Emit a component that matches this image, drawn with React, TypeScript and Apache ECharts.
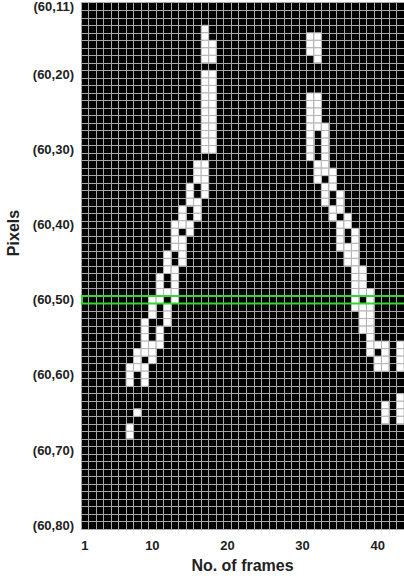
import React, { useEffect, useRef } from "react";
import * as echarts from "echarts";

// Frame numbers (columns) and pixel rows
const frames: string[] = Array.from({ length: 43 }, (_, i) => String(i + 1));
const pixelRows: string[] = Array.from({ length: 70 }, (_, i) => String(i + 11));
const frameTicks = ["1", "10", "20", "30", "40"];
const rowTicks = ["11", "20", "30", "40", "50", "60", "70", "80"];
const highlightRow = "50";

// White (active) cells: [row, frames]
const leftTrack: [number, number[]][] = [
  [14, [17]], [15, [17]], [16, [17, 18]], [17, [17, 18]], [18, [17, 18]],
  [20, [17, 18]], [21, [17, 18]], [22, [17, 18]], [23, [17, 18]], [24, [17, 18]],
  [25, [17, 18]], [26, [17, 18]], [27, [17, 18]], [28, [17, 18]], [29, [17, 18]],
  [30, [17, 18]],
  [32, [16, 17]], [33, [16, 17]], [34, [16, 17]], [35, [15, 17]], [36, [15, 17]],
  [37, [15, 16]], [38, [14, 16]], [39, [14, 16]], [40, [13, 14, 15]], [41, [13, 15]],
  [42, [13, 14]], [43, [13, 14]], [44, [12, 14]], [45, [12, 14]], [46, [12, 13]],
  [47, [11, 13]], [48, [11, 13]], [49, [11, 12, 13]], [50, [10, 11, 13]], [51, [10, 12]],
  [52, [10, 12]], [53, [9, 12]], [54, [9, 11]], [55, [9, 11]], [56, [9, 10, 11]],
  [57, [8, 9, 10]], [58, [8, 10]], [59, [7, 8, 9]], [60, [7, 9]], [61, [7, 9]],
  [65, [8]], [67, [7]], [68, [7]],
];

const rightTrack: [number, number[]][] = [
  [15, [31, 32]], [16, [31, 32]], [17, [31, 32]], [18, [32]],
  [23, [31, 32]], [24, [31, 32]], [25, [31, 32]], [26, [31, 32]], [27, [31, 32, 33]],
  [28, [31, 33]], [29, [31, 33]], [30, [31, 33]], [31, [31, 33]], [32, [32, 33]],
  [33, [32, 33, 34]], [34, [32, 34]], [35, [33, 34]], [36, [33, 35]], [37, [33, 35]],
  [38, [34, 35]], [39, [34, 36]], [40, [35, 36]], [41, [35, 37]], [42, [35, 37]],
  [43, [35, 36, 37]], [44, [36, 37]], [45, [36, 37]], [46, [37, 38]], [47, [37, 38]],
  [48, [37, 38]], [49, [37, 38, 39]], [50, [37, 39]], [51, [37, 38, 39]], [52, [38, 39]],
  [53, [38, 39]], [54, [38, 39]], [55, [39]], [56, [39, 40, 41, 43]], [57, [39, 41, 43]],
  [58, [40, 41, 43]], [59, [40, 41, 43]], [63, [43]], [64, [41, 43]], [65, [41, 43]],
  [66, [41, 43]],
];

const FONT = "'Liberation Sans', Arial, Helvetica, sans-serif";

export default function App() {
  const ref = useRef<HTMLDivElement>(null);

  useEffect(() => {
    if (!ref.current) return;
    const chart = echarts.init(ref.current, null, { renderer: "svg" });

    const cells: string[][] = [];
    [...leftTrack, ...rightTrack].forEach(([row, cols]) => {
      cols.forEach((c) => cells.push([String(c), String(row)]));
    });

    chart.setOption({
      animation: false,
      backgroundColor: "#fff",
      grid: {
        left: 81,
        top: 2,
        right: -2.5,
        bottom: 46.4,
        show: true,
        backgroundColor: "#000",
        borderWidth: 0,
      },
      xAxis: {
        type: "category",
        data: frames,
        axisLine: { show: false },
        axisTick: { show: false },
        splitLine: { show: true, interval: 0, lineStyle: { color: "#a8a8a8", width: 1 } },
        axisLabel: {
          interval: (_i: number, v: string) => frameTicks.includes(v),
          margin: 10,
          fontSize: 13,
          fontWeight: "bold",
          fontFamily: FONT,
          color: "#222",
        },
        name: "No. of frames",
        nameLocation: "middle",
        nameGap: 27,
        nameTextStyle: { fontSize: 16, fontWeight: "bold", fontFamily: FONT, color: "#222" },
      },
      yAxis: {
        type: "category",
        data: pixelRows,
        inverse: true,
        axisLine: { show: false },
        axisTick: { show: false },
        splitLine: { show: true, interval: 0, lineStyle: { color: "#a8a8a8", width: 1 } },
        axisLabel: {
          interval: (_i: number, v: string) => rowTicks.includes(v),
          formatter: (v: string) => `(60,${v})`,
          margin: 7,
          fontSize: 13,
          fontWeight: "bold",
          fontFamily: FONT,
          color: "#222",
        },
      },
      graphic: [
        {
          type: "text",
          x: 13,
          y: 233,
          rotation: Math.PI / 2,
          style: {
            text: "Pixels",
            fontSize: 16,
            fontWeight: "bold",
            fontFamily: FONT,
            fill: "#222",
            align: "center",
            verticalAlign: "middle",
          },
        },
      ],
      series: [
        {
          type: "custom",
          name: "cells",
          data: cells,
          encode: { x: 0, y: 1 },
          renderItem: (_params: any, api: any) => {
            const c = api.coord([api.value(0), api.value(1)]);
            const s = api.size([1, 1]);
            return {
              type: "rect",
              shape: { x: c[0] - s[0] / 2, y: c[1] - s[1] / 2, width: s[0], height: s[1] },
              style: { fill: "#ffffff", stroke: "#b4b4b4", lineWidth: 1 },
            };
          },
          z: 2,
        },
        {
          type: "custom",
          name: "highlight",
          data: [["1", highlightRow]],
          encode: { x: 0, y: 1 },
          renderItem: (params: any, api: any) => {
            const c = api.coord([api.value(0), api.value(1)]);
            const s = api.size([1, 1]);
            const cs = params.coordSys;
            return {
              type: "rect",
              shape: { x: cs.x + 1, y: c[1] - s[1] / 2, width: cs.width, height: s[1] },
              style: { fill: "none", stroke: "#33d633", lineWidth: 2 },
            };
          },
          z: 3,
        },
      ],
    });

    return () => chart.dispose();
  }, []);

  return (
    <div
      ref={ref}
      style={{ position: "fixed", left: 0, top: 0, width: 404, height: 578, background: "#fff" }}
    />
  );
}
